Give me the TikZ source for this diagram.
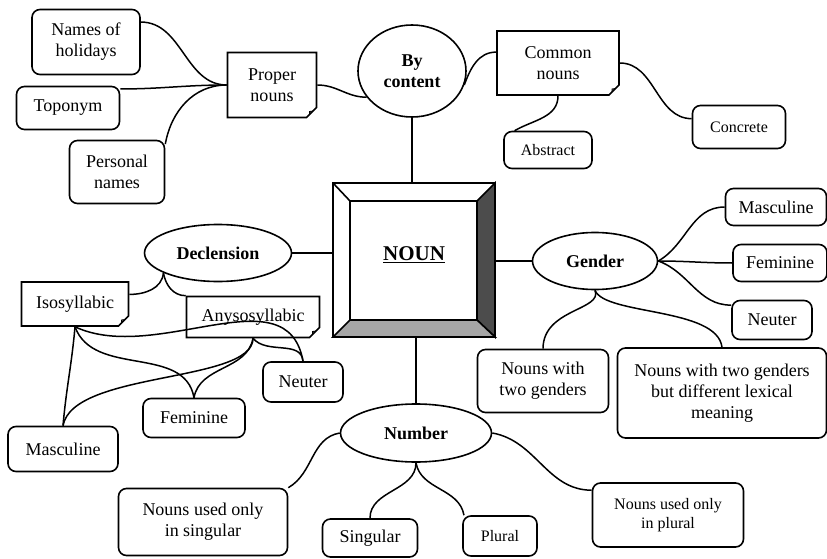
\documentclass[tikz,border=0pt]{standalone}
\usepackage{fontspec}
\setmainfont{Liberation Serif}
\usepackage{tikz}
\usetikzlibrary{calc,positioning}
\usetikzlibrary{shapes.geometric}
\usetikzlibrary{shapes.misc}

\begin{document}
\begin{tikzpicture}[x=1pt,y=-1pt,line width=1.6pt,
    every node/.style={font=\fontsize{18}{21}\selectfont,align=center,inner sep=2pt},
    leaf/.style={draw,rounded corners=8pt},
    small/.style={font=\fontsize{16}{19}\selectfont},
    sheet/.style={draw,chamfered rectangle,chamfered rectangle corners=south east,chamfered rectangle xsep=7pt,
        path picture={\draw[fill=black!45,line width=0.8pt] ($(path picture bounding box.south east)+(-7,0)$) -- ($(path picture bounding box.south east)+(0,-7)$) -- ($(path picture bounding box.south east)+(-7,-6)$) -- cycle;}},
    topic/.style={draw,ellipse,inner sep=0pt,font=\bfseries\fontsize{18}{21}\selectfont},
    link/.style={line width=1.5pt}]
    \useasboundingbox (0,0) rectangle (827,559);

    \node [leaf,minimum width=108pt,minimum height=65pt] (hol) at (86,42) {Names of\\holidays};
    \node [leaf,minimum width=103pt,minimum height=43pt] (topo) at (68,108) {Toponym};
    \node [leaf,minimum width=95pt,minimum height=63pt] (pers) at (117,172) {Personal\\names};
    \node [sheet,minimum width=89pt,minimum height=65pt] (prop) at (272,85) {Proper\\nouns};
    \node [topic,minimum width=108pt,minimum height=92pt] (cont) at (412,71) {By\\content};
    \node [sheet,minimum width=122pt,minimum height=64pt] (comm) at (558,63) {Common\\nouns};
    \node [leaf,small,minimum width=88pt,minimum height=37pt] (abst) at (548,150) {Abstract};
    \node [leaf,small,minimum width=93pt,minimum height=43pt] (conc) at (739,127) {Concrete};

    \node [draw,fill=white,outer sep=0pt,minimum width=162pt,minimum height=154pt,
        font=\bfseries\fontsize{21}{24}\selectfont] (noun) at (414,260) {\raisebox{12pt}{\underline{NOUN}}};
    \draw [fill=black!70] (noun.north east) -- (noun.south east) -- ($(noun.south east)+(-18,-17)$) -- ($(noun.north east)+(-18,18)$) -- cycle;
    \draw [fill=black!35] (noun.south west) -- ($(noun.south west)+(17,-17)$) -- ($(noun.south east)+(-18,-17)$) -- (noun.south east) -- cycle;
    \draw ($(noun.north west)+(17,18)$) rectangle ($(noun.south east)+(-18,-17)$);
    \draw (noun.north west) -- ($(noun.north west)+(17,18)$);

    \node [topic,minimum width=147pt,minimum height=57pt] (decl) at (218,253) {Declension};
    \node [sheet,minimum width=107pt,minimum height=44pt] (iso) at (75,304) {Isosyllabic};
    \node [sheet,minimum width=133pt,minimum height=41pt] (any) at (253,317) {Anysosyllabic};
    \node [leaf,minimum width=80pt,minimum height=40pt] (neuL) at (303,382) {Neuter};
    \node [leaf,minimum width=102pt,minimum height=39pt] (femL) at (194,418) {Feminine};
    \node [leaf,minimum width=110pt,minimum height=45pt] (masL) at (63,449) {Masculine};

    \node [topic,minimum width=125pt,minimum height=57pt] (gend) at (595,261) {Gender};
    \node [leaf,minimum width=101pt,minimum height=37pt] (masR) at (776,207) {Masculine};
    \node [leaf,minimum width=94pt,minimum height=37pt] (femR) at (780,263) {Feminine};
    \node [leaf,minimum width=80pt,minimum height=39pt] (neuR) at (772,320) {Neuter};
    \node [leaf,minimum width=131pt,minimum height=63pt] (twoG) at (543,381) {Nouns with\\two genders};
    \node [leaf,minimum width=209pt,minimum height=90pt] (lex) at (722,393) {Nouns with two genders\\but different lexical\\meaning};

    \node [topic,minimum width=151pt,minimum height=58pt] (numb) at (416,433) {Number};
    \node [leaf,minimum width=169pt,minimum height=67pt] (sing) at (203,522) {Nouns used only\\in singular};
    \node [leaf,minimum width=95pt,minimum height=38pt] (sgl) at (370,538) {Singular};
    \node [leaf,small,minimum width=74pt,minimum height=40pt] (plu) at (500,536) {Plural};
    \node [leaf,small,minimum width=151pt,minimum height=64pt] (plo) at (668,515) {Nouns used only\\in plural};

    \draw [link] (hol.20) to[out=0,in=180] (prop.west);
    \draw [link] (topo.20) to[out=0,in=180] (prop.west);
    \draw [link] (pers.30) to[out=80,in=180] (prop.west);
    \draw [link] (prop.east) to[out=0,in=180] (cont.210);
    \draw [link] (cont.345) to[out=70,in=180] (comm.170);
    \draw [link] (comm.south) to[out=-90,in=30] (abst.150);
    \draw [link] (comm.east) to[out=0,in=180] (conc.170);

    \draw [link] (cont.south) -- (cont.south |- noun.north);
    \draw [link] (decl.east) -- (decl.east -| noun.west);
    \draw [link] (gend.west -| noun.east) -- (gend.west);
    \draw [link] (numb.north |- noun.south) -- (numb.north);

    \draw [link] (decl.200) to[out=-95,in=0] (iso.10);
    \draw [link] (decl.200) to[out=-80,in=180] (any.north west);
    \draw [link] (iso.south) to[out=-25,in=100] (neuL.north);
    \draw [link] (iso.south) to[out=-70,in=100] (femL.north);
    \draw [link] (iso.south) to[out=-95,in=85] (masL.north);
    \draw [link] (any.south) to[out=-50,in=95] (neuL.north);
    \draw [link] (any.south) to[out=-100,in=80] (femL.north);
    \draw [link] (any.south) .. controls +(0,45) and +(10,-55) .. (masL.north);

    \draw [link] (gend.east) to[out=30,in=180] (masR.west);
    \draw [link] (gend.east) to[out=0,in=180] (femR.west);
    \draw [link] (gend.east) to[out=-20,in=180] (neuR.160);
    \draw [link] (gend.south) .. controls +(10,25) and +(-5,-40) .. (lex.north);
    \draw [link] (gend.south) .. controls +(8,20) and +(0,-40) .. (twoG.north);

    \draw [link] (numb.west) to[out=190,in=30] (sing.north east);
    \draw [link] (numb.south) to[out=-90,in=90] (sgl.north);
    \draw [link] (numb.south) to[out=-80,in=100] (plu.150);
    \draw [link] (numb.east) to[out=-10,in=180] (plo.162);
\end{tikzpicture}
\end{document}
